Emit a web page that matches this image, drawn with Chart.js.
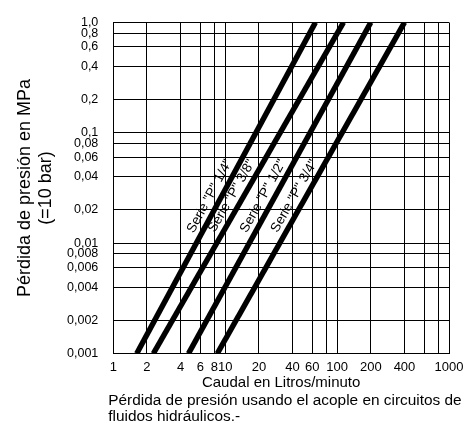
<!DOCTYPE html>
<html>
<head>
<meta charset="utf-8">
<script src="https://cdn.jsdelivr.net/npm/chart.js@4.4.1/dist/chart.umd.min.js"></script>
<style>
  html, body { margin: 0; padding: 0; background: #fff; }
  #wrap { width: 470px; height: 423px; position: relative; }
</style>
</head>
<body>
<div id="wrap"><canvas id="chart"></canvas></div>
<script>
// Names printed along each curve
const seriesNames = ['Serie "P" 1/4"', 'Serie "P" 3/8"', 'Serie "P" 1/2"', 'Serie "P" 3/4"'];
// Flow (l/min) where each curve meets 0,001 MPa and 1,0 MPa
const caudalBajo = [1.62, 2.28, 4.7, 8.5];
const caudalAlto = [64, 114, 200, 400];
const presionBajo = 0.001;
const presionAlto = 1.0;

// Axis ticks
const xTicks = [1, 2, 4, 6, 8, 10, 20, 40, 60, 80, 100, 200, 400, 600, 800, 1000];
const xLabels = ['1', '2', '4', '6', '8', '10', '20', '40', '60', '', '100', '200', '400', '', '', '1000'];
const yTicks = [0.001, 0.002, 0.004, 0.006, 0.008, 0.01, 0.02, 0.04, 0.06, 0.08, 0.1, 0.2, 0.4, 0.6, 0.8, 1.0];
const yLabels = ['0,001', '0,002', '0,004', '0,006', '0,008', '0,01', '0,02', '0,04', '0,06', '0,08', '0,1', '0,2', '0,4', '0,6', '0,8', '1,0'];

// Pressure at which the series names sit on the curves
const labelPresion = 0.024;

const caption = ['Pérdida de presión usando el acople en circuitos de', 'fluidos hidráulicos.-'];

const FONT = '"Liberation Sans", Arial, sans-serif';
Chart.defaults.font.family = FONT;
Chart.defaults.color = '#000';

// Writes each series name along its curve, just above-left of it
const serieLabels = {
  id: 'serieLabels',
  afterDatasetsDraw(chart) {
    const ctx = chart.ctx;
    const py = chart.scales.y.getPixelForValue(labelPresion);
    ctx.save();
    ctx.font = '13.5px ' + FONT;
    ctx.fillStyle = '#000';
    ctx.textAlign = 'center';
    ctx.textBaseline = 'middle';
    chart.data.datasets.forEach((ds, i) => {
      const pts = chart.getDatasetMeta(i).data;
      const a = pts[0], b = pts[1];
      const t = (py - a.y) / (b.y - a.y);
      const px = a.x + t * (b.x - a.x);
      ctx.save();
      ctx.translate(px, py);
      ctx.rotate(Math.atan2(b.y - a.y, b.x - a.x));
      ctx.fillText(seriesNames[i], 0, -10.5);
      ctx.restore();
    });
    ctx.restore();
  }
};

// Caption under the x axis title
const pie = {
  id: 'pie',
  afterDraw(chart) {
    const ctx = chart.ctx;
    const xs = chart.scales.x;
    ctx.save();
    ctx.font = '15.4px ' + FONT;
    ctx.fillStyle = '#000';
    ctx.textAlign = 'left';
    ctx.textBaseline = 'middle';
    caption.forEach((t, i) => ctx.fillText(t, chart.chartArea.left - 5, xs.bottom + 9 + i * 16));
    ctx.restore();
  }
};

new Chart(document.getElementById('chart'), {
  type: 'line',
  data: {
    datasets: seriesNames.map((name, i) => ({
      label: name,
      data: [{x: caudalBajo[i], y: presionBajo}, {x: caudalAlto[i], y: presionAlto}],
      borderColor: '#000',
      borderWidth: 5.5,
      pointRadius: 0,
      tension: 0
    }))
  },
  options: {
    responsive: true,
    maintainAspectRatio: false,
    animation: false,
    layout: { padding: { left: 0, right: 21, top: 19.3, bottom: 31 } },
    plugins: { legend: { display: false }, tooltip: { enabled: false } },
    scales: {
      x: {
        type: 'logarithmic',
        min: 1,
        max: 1000,
        afterBuildTicks: s => { s.ticks = xTicks.map(v => ({ value: v })); },
        afterFit: s => { s.height = 38.5; },
        ticks: {
          autoSkip: false,
          maxRotation: 0,
          padding: 6.5,
          font: { size: 13 },
          callback: (v, i) => xLabels[i]
        },
        grid: { color: '#000', lineWidth: 1, drawTicks: false },
        border: { color: '#000', width: 1 },
        title: { display: true, text: 'Caudal en Litros/minuto', font: { size: 15 }, padding: 0 }
      },
      y: {
        type: 'logarithmic',
        min: 0.001,
        max: 1,
        afterBuildTicks: s => { s.ticks = yTicks.map(v => ({ value: v })); },
        afterFit: s => { s.width = 113.3; },
        ticks: {
          autoSkip: false,
          padding: 15,
          font: { size: 12.5 },
          callback: (v, i) => yLabels[i]
        },
        grid: { color: '#000', lineWidth: 1, drawTicks: false },
        border: { color: '#000', width: 1 },
        title: {
          display: true,
          text: ['Pérdida de presión en MPa', '(=10 bar)'],
          font: { size: 18, lineHeight: 1.2 },
          padding: { top: 14, bottom: 0 }
        }
      }
    }
  },
  plugins: [serieLabels, pie]
});
</script>
</body>
</html>
